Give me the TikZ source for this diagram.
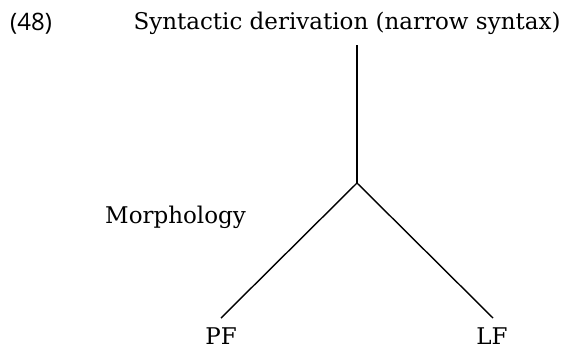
\documentclass[tikz,border=0pt]{standalone}
\usepackage{fontspec}
\setmainfont{DejaVu Serif}
\newfontfamily\numfont{Open Sans}
\begin{document}
\begin{tikzpicture}[x=1pt,y=-1pt,
  lbl/.style={inner sep=0pt,anchor=base west,font=\fontsize{23}{27}\selectfont},
  edge/.style={line width=1.4pt}]
\useasboundingbox (0,0) rectangle (572,349);
\node[lbl,font=\numfont\fontsize{24}{28}\selectfont] (num) at (10,30) {(48)};
\node[lbl,anchor=base] (top) at (347,29) {Syntactic derivation (narrow syntax)};
\coordinate (t) at (357,45);
\coordinate (m) at (357,183);
\coordinate (pfend) at (221,318);
\coordinate (lfend) at (493,318);
\node[lbl] (morph) at (105,223) {Morphology};
\node[lbl,anchor=base] (pf) at (221,344) {PF};
\node[lbl,anchor=base] (lf) at (492,344) {LF};
\draw[edge] (t) -- (m);
\draw[edge] (m) -- (pfend);
\draw[edge] (m) -- (lfend);
\end{tikzpicture}
\end{document}
